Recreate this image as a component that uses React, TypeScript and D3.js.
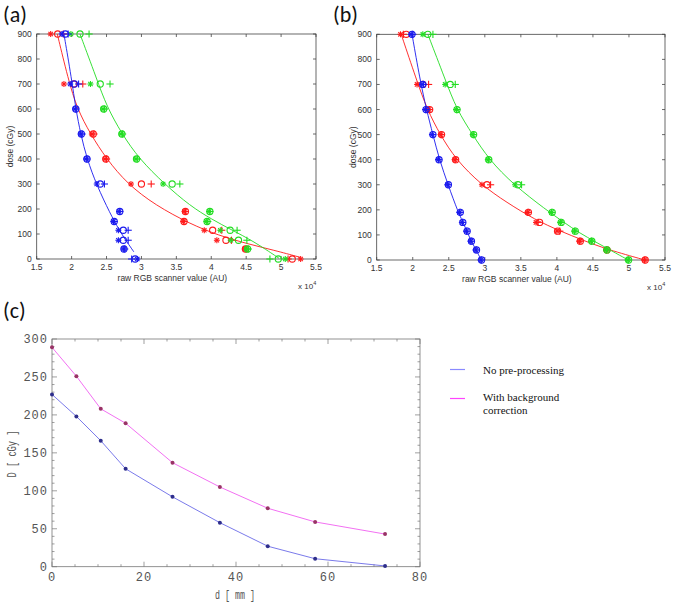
import React from 'react';
import * as d3 from 'd3';

// ---------- Data: panels (a) and (b) ----------
const DOSES = [900, 700, 600, 500, 400, 300, 190, 150, 115, 75, 40, 0];
const RGB_X_TICKS = [1.5, 2, 2.5, 3, 3.5, 4, 4.5, 5, 5.5];
const DOSE_TICKS = [0, 100, 200, 300, 400, 500, 600, 700, 800, 900];

// panel (a) – scanner values (x 10^4) per dose, marker types * / o / +
const A_BLUE_STAR = [1.86, 1.98, 2.05, 2.13, 2.21, 2.36, 2.68, 2.6, 2.67, 2.67, 2.745, 2.94];
const A_BLUE_CIRC = [1.91, 2.04, 2.06, 2.14, 2.22, 2.41, 2.69, 2.61, 2.74, 2.74, 2.75, 2.91];
const A_BLUE_PLUS = [1.95, 2.1, 2.06, 2.15, 2.22, 2.47, 2.69, 2.61, 2.81, 2.81, 2.76, 2.86];
const A_RED_STAR = [1.7, 1.89, null, 2.29, 2.48, 2.85, 3.62, 3.6, 3.9, 4.08, 4.48, 5.28];
const A_RED_CIRC = [1.8, 2.03, null, 2.31, 2.49, 3.0, 3.63, 3.61, 4.02, 4.21, 4.49, 5.16];
const A_RED_PLUS = [1.88, 2.16, null, 2.32, 2.5, 3.14, 3.63, 3.61, 4.15, 4.29, 4.5, 5.1];
const A_GREEN_STAR = [1.99, 2.27, 2.45, 2.71, 2.92, 3.31, 3.97, 3.93, 4.13, 4.28, 4.51, 5.06];
const A_GREEN_CIRC = [2.12, 2.41, 2.46, 2.72, 2.93, 3.44, 3.98, 3.94, 4.27, 4.39, 4.52, 4.96];
const A_GREEN_PLUS = [2.25, 2.55, 2.47, 2.73, 2.94, 3.55, 3.98, 3.95, 4.37, 4.51, 4.53, 4.84];

// panel (a) fitted curves: [scanner value, dose]
const A_BLUE_FIT = [[1.89, 900], [2.0, 720], [2.06, 600], [2.13, 500], [2.22, 400], [2.36, 295], [2.55, 183], [2.68, 116], [2.8, 65], [2.89, 29]];
const A_RED_FIT = [[1.795, 900], [1.95, 720], [2.08, 600], [2.27, 500], [2.5, 400], [2.8, 300], [3.2, 215], [3.7, 140], [4.1, 95], [4.5, 62], [4.9, 35], [5.27, 7]];
const A_GREEN_FIT = [[2.12, 900], [2.36, 720], [2.5, 612], [2.72, 500], [2.97, 400], [3.33, 300], [3.7, 212], [4.0, 160], [4.3, 115], [4.6, 72], [4.97, 3]];

// panel (b)
const B_BLUE_STAR = [1.98, 2.13, 2.175, 2.27, 2.355, 2.485, 2.65, 2.685, 2.745, 2.805, 2.875, 2.945];
const B_BLUE_CIRC = [1.99, 2.14, 2.185, 2.28, 2.365, 2.495, 2.66, 2.695, 2.755, 2.815, 2.885, 2.955];
const B_BLUE_PLUS = [2.0, 2.15, 2.18, 2.275, 2.36, 2.49, 2.655, 2.69, 2.75, 2.81, 2.88, 2.95];
const B_RED_STAR = [1.83, 2.06, 2.225, 2.39, 2.585, 2.96, 3.595, 3.71, 4.0, 4.315, 4.685, 5.215];
const B_RED_CIRC = [1.91, 2.14, 2.235, 2.4, 2.595, 3.03, 3.605, 3.76, 4.01, 4.325, 4.695, 5.225];
const B_RED_PLUS = [1.87, 2.22, 2.23, 2.395, 2.59, 3.08, 3.6, 3.74, 4.04, 4.32, 4.69, 5.22];
const B_GREEN_STAR = [2.14, 2.45, 2.605, 2.835, 3.045, 3.42, 3.925, 4.05, 4.245, 4.475, 4.685, 4.985];
const B_GREEN_CIRC = [2.21, 2.52, 2.615, 2.845, 3.055, 3.46, 3.935, 4.06, 4.255, 4.485, 4.695, 4.995];
const B_GREEN_PLUS = [2.28, 2.59, 2.61, 2.84, 3.05, 3.51, 3.93, 4.055, 4.25, 4.48, 4.69, 4.99];

const B_BLUE_FIT = [[1.99, 900], [2.1, 720], [2.19, 600], [2.28, 500], [2.37, 400], [2.49, 300], [2.63, 190], [2.7, 150], [2.75, 115], [2.81, 75], [2.88, 40], [2.95, 0]];
const B_RED_FIT = [[1.84, 900], [2.05, 720], [2.2, 600], [2.38, 500], [2.6, 400], [2.95, 300], [3.3, 230], [3.7, 160], [4.05, 115], [4.35, 80], [4.7, 42], [5.22, 0]];
const B_GREEN_FIT = [[2.21, 900], [2.45, 720], [2.61, 600], [2.83, 500], [3.06, 400], [3.4, 300], [3.85, 200], [4.1, 150], [4.3, 110], [4.55, 70], [4.75, 38], [4.99, 0]];

// ---------- Data: panel (c) ----------
const C_DEPTH = [0, 5.3, 10.6, 16, 26.2, 36.5, 46.9, 57.2, 72.4];
const C_NO_PRE = [227, 198, 166, 129, 92, 58, 27, 10.5, 1];
const C_BG_CORR = [289, 251, 208, 189, 137, 105, 77, 59, 43];
const C_X_TICKS = [0, 20, 40, 60, 80];
const C_Y_TICKS = [0, 50, 100, 150, 200, 250, 300];
const C_LEGEND = ['No pre-processing', 'With background', 'correction'];

const RED = '#ff1a1a';
const GREEN = '#22dd22';
const BLUE = '#1a1aee';

type Series = { color: string; star: (number | null)[]; circ: (number | null)[]; plus: (number | null)[]; fit: number[][] };

function Star({ x, y, c }: { x: number; y: number; c: string }) {
  const s = 3;
  const d = 2.2;
  return (
    <g stroke={c} strokeWidth={1.1}>
      <line x1={x - s} y1={y} x2={x + s} y2={y} />
      <line x1={x} y1={y - s} x2={x} y2={y + s} />
      <line x1={x - d} y1={y - d} x2={x + d} y2={y + d} />
      <line x1={x - d} y1={y + d} x2={x + d} y2={y - d} />
    </g>
  );
}
function Plus({ x, y, c }: { x: number; y: number; c: string }) {
  const s = 3.6;
  return (
    <g stroke={c} strokeWidth={1.1}>
      <line x1={x - s} y1={y} x2={x + s} y2={y} />
      <line x1={x} y1={y - s} x2={x} y2={y + s} />
    </g>
  );
}

function RGBPanel({ left, right, top, bottom, series, xLabelY, yTitleX }: { left: number; right: number; top: number; bottom: number; series: Series[]; xLabelY: number; yTitleX: number }) {
  const x = d3.scaleLinear().domain([1.5, 5.5]).range([left, right]);
  const y = d3.scaleLinear().domain([0, 900]).range([bottom, top]);
  const line = d3.line<number[]>().x((d) => x(d[0])).y((d) => y(d[1])).curve(d3.curveBasis);
  const axisColor = '#444';
  const font = 'Arial, "Liberation Sans", sans-serif';
  return (
    <g>
      <rect x={left} y={top} width={right - left} height={bottom - top} fill="none" stroke={axisColor} strokeWidth={0.8} />
      {RGB_X_TICKS.map((t) => (
        <g key={'xt' + t}>
          <line x1={x(t)} x2={x(t)} y1={bottom} y2={bottom - 3} stroke={axisColor} strokeWidth={0.8} />
          <line x1={x(t)} x2={x(t)} y1={top} y2={top + 3} stroke={axisColor} strokeWidth={0.8} />
          <text x={x(t)} y={bottom + 11} textAnchor="middle" fontSize={8.5} fontFamily={font} fill="#333">{String(t)}</text>
        </g>
      ))}
      {DOSE_TICKS.map((t) => (
        <g key={'yt' + t}>
          <line x1={left} x2={left + 3} y1={y(t)} y2={y(t)} stroke={axisColor} strokeWidth={0.8} />
          <line x1={right} x2={right - 3} y1={y(t)} y2={y(t)} stroke={axisColor} strokeWidth={0.8} />
          <text x={left - 5} y={y(t) + 3} textAnchor="end" fontSize={8.5} fontFamily={font} fill="#333">{String(t)}</text>
        </g>
      ))}
      <text x={(left + right) / 2 - 4} y={xLabelY} textAnchor="middle" fontSize={8.5} fontFamily={font} fill="#333">raw RGB scanner value (AU)</text>
      <text x={right - 18} y={xLabelY + 8} fontSize={8} fontFamily={font} fill="#333">x 10<tspan dy={-4} fontSize={5.5}>4</tspan></text>
      <text transform={`translate(${yTitleX},${(top + bottom) / 2}) rotate(-90)`} textAnchor="middle" fontSize={8.5} fontFamily={font} fill="#333">dose (cGy)</text>
      {series.map((s, si) => (
        <g key={'s' + si}>
          <path d={line(s.fit) || ''} fill="none" stroke={s.color} strokeWidth={0.9} />
          {DOSES.map((dose, i) => (
            <g key={'m' + i}>
              {s.star[i] != null && <Star x={x(s.star[i] as number)} y={y(dose)} c={s.color} />}
              {s.circ[i] != null && <circle cx={x(s.circ[i] as number)} cy={y(dose)} r={3.1} fill="none" stroke={s.color} strokeWidth={1.1} />}
              {s.plus[i] != null && <Plus x={x(s.plus[i] as number)} y={y(dose)} c={s.color} />}
            </g>
          ))}
        </g>
      ))}
    </g>
  );
}

function DepthPanel() {
  const left = 52, right = 420, top = 339, bottom = 566.7;
  const x = d3.scaleLinear().domain([0, 80]).range([left, right]);
  const y = d3.scaleLinear().domain([0, 300]).range([bottom, top]);
  const line = d3.line<number>().x((_, i) => x(C_DEPTH[i])).y((d) => y(d));
  const frame = '#777';
  const mono = '"Liberation Mono", "DejaVu Sans Mono", monospace';
  const xMinor = d3.range(0, 81, 5);
  const yMinor = d3.range(0, 301, 10);
  return (
    <g>
      <rect x={left} y={top} width={right - left} height={bottom - top} fill="none" stroke={frame} strokeWidth={0.8} />
      {xMinor.map((t) => {
        const major = t % 20 === 0;
        const L = major ? 5 : 2.5;
        return (
          <g key={'cx' + t}>
            <line x1={x(t)} x2={x(t)} y1={bottom} y2={bottom - L} stroke={frame} strokeWidth={0.7} />
            <line x1={x(t)} x2={x(t)} y1={top} y2={top + L} stroke={frame} strokeWidth={0.7} />
          </g>
        );
      })}
      {yMinor.map((t) => {
        const major = t % 50 === 0;
        const L = major ? 5 : 2.5;
        return (
          <g key={'cy' + t}>
            <line x1={left} x2={left + L} y1={y(t)} y2={y(t)} stroke={frame} strokeWidth={0.7} />
            <line x1={right} x2={right - L} y1={y(t)} y2={y(t)} stroke={frame} strokeWidth={0.7} />
          </g>
        );
      })}
      {C_X_TICKS.map((t) => (
        <text key={'cxl' + t} x={x(t)} y={bottom + 14} textAnchor="middle" fontSize={12} letterSpacing={1} fontFamily={mono} fill="#555">{String(t)}</text>
      ))}
      {C_Y_TICKS.map((t) => (
        <text key={'cyl' + t} x={left - 4} y={y(t) + 4} textAnchor="end" fontSize={12} letterSpacing={1} fontFamily={mono} fill="#555">{String(t)}</text>
      ))}
      <text x={235} y={599} textAnchor="middle" fontSize={13} fontFamily={mono} fill="#555" textLength={40} lengthAdjust="spacingAndGlyphs">d [ mm ]</text>
      <text transform={`translate(16,454) rotate(-90)`} textAnchor="middle" fontSize={13} fontFamily={mono} fill="#555" textLength={47} lengthAdjust="spacingAndGlyphs">D [ cGy ]</text>
      <path d={line(C_NO_PRE) || ''} fill="none" stroke="#6b6be8" strokeWidth={0.9} />
      <path d={line(C_BG_CORR) || ''} fill="none" stroke="#f060f0" strokeWidth={0.9} />
      {C_NO_PRE.map((v, i) => (
        <circle key={'bp' + i} cx={x(C_DEPTH[i])} cy={y(v)} r={2} fill="#2e2e8c" />
      ))}
      {C_BG_CORR.map((v, i) => (
        <circle key={'mp' + i} cx={x(C_DEPTH[i])} cy={y(v)} r={2} fill="#993366" />
      ))}
      {/* legend */}
      <line x1={450} x2={465} y1={369.5} y2={369.5} stroke="#8a8aff" strokeWidth={1.2} />
      <line x1={450} x2={465} y1={398.5} y2={398.5} stroke="#ff44ff" strokeWidth={1.2} />
      <text x={483} y={374} fontSize={11} fontFamily='"Liberation Serif", "Times New Roman", serif' fill="#111">{C_LEGEND[0]}</text>
      <text x={483} y={401} fontSize={11} fontFamily='"Liberation Serif", "Times New Roman", serif' fill="#111">{C_LEGEND[1]}</text>
      <text x={483} y={414} fontSize={11} fontFamily='"Liberation Serif", "Times New Roman", serif' fill="#111">{C_LEGEND[2]}</text>
    </g>
  );
}

export default function App() {
  const seriesA: Series[] = [
    { color: RED, star: A_RED_STAR, circ: A_RED_CIRC, plus: A_RED_PLUS, fit: A_RED_FIT },
    { color: GREEN, star: A_GREEN_STAR, circ: A_GREEN_CIRC, plus: A_GREEN_PLUS, fit: A_GREEN_FIT },
    { color: BLUE, star: A_BLUE_STAR, circ: A_BLUE_CIRC, plus: A_BLUE_PLUS, fit: A_BLUE_FIT },
  ];
  const seriesB: Series[] = [
    { color: RED, star: B_RED_STAR, circ: B_RED_CIRC, plus: B_RED_PLUS, fit: B_RED_FIT },
    { color: GREEN, star: B_GREEN_STAR, circ: B_GREEN_CIRC, plus: B_GREEN_PLUS, fit: B_GREEN_FIT },
    { color: BLUE, star: B_BLUE_STAR, circ: B_BLUE_CIRC, plus: B_BLUE_PLUS, fit: B_BLUE_FIT },
  ];
  const labelFont = 'Calibri, Carlito, "Open Sans", "Liberation Sans", sans-serif';
  return (
    <svg width={675} height={607} viewBox="0 0 675 607" style={{ position: 'absolute', left: 0, top: 0, background: '#fff' }}>
      <rect x={0} y={0} width={675} height={607} fill="#fff" />
      <text x={3} y={22} fontSize={22} fontFamily={labelFont} fill="#111">(a)</text>
      <text x={333} y={22} fontSize={22} fontFamily={labelFont} fill="#111">(b)</text>
      <text x={3} y={318} fontSize={22} fontFamily={labelFont} fill="#111">(c)</text>
      <RGBPanel left={36.7} right={316} top={34} bottom={259} series={seriesA} xLabelY={281} yTitleX={13} />
      <RGBPanel left={376.7} right={665} top={34.3} bottom={260} series={seriesB} xLabelY={282} yTitleX={356} />
      <DepthPanel />
    </svg>
  );
}
